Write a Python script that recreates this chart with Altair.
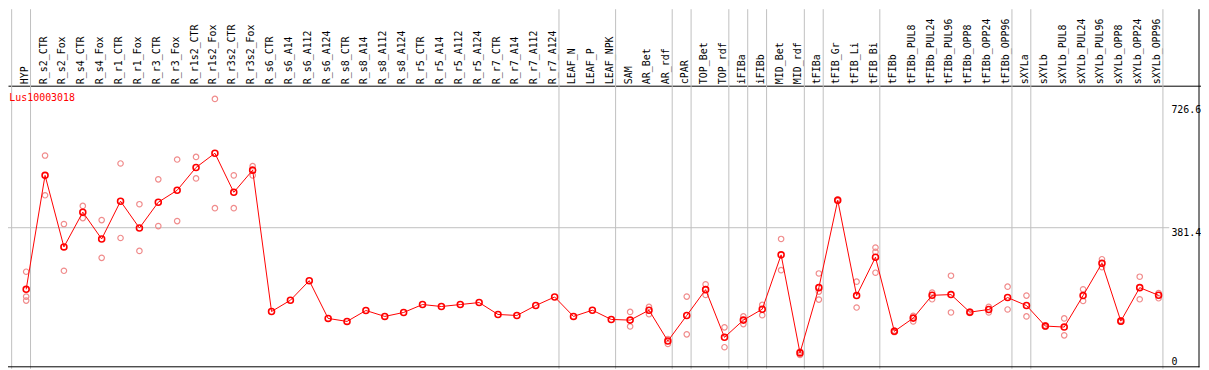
import altair as alt
import pandas as pd

gene = "Lus10003018"

names = ["HYP", "R_s2_CTR", "R_s2_Fox", "R_s4_CTR", "R_s4_Fox", "R_r1_CTR", "R_r1_Fox",
         "R_r3_CTR", "R_r3_Fox", "R_r1s2_CTR", "R_r1s2_Fox", "R_r3s2_CTR", "R_r3s2_Fox",
         "R_s6_CTR", "R_s6_A14", "R_s6_A112", "R_s6_A124", "R_s8_CTR", "R_s8_A14", "R_s8_A112",
         "R_s8_A124", "R_r5_CTR", "R_r5_A14", "R_r5_A112", "R_r5_A124", "R_r7_CTR", "R_r7_A14",
         "R_r7_A112", "R_r7_A124", "LEAF_N", "LEAF_P", "LEAF_NPK", "SAM", "AR_Bet", "AR_rdf",
         "cPAR", "TOP_Bet", "TOP_rdf", "iFIBa", "iFIBb", "MID_Bet", "MID_rdf", "tFIBa",
         "tFIB_Gr", "tFIB_Li", "tFIB_Bi", "tFIBb", "tFIBb_PUL8", "tFIBb_PUL24", "tFIBb_PUL96",
         "tFIBb_OPP8", "tFIBb_OPP24", "tFIBb_OPP96", "sXYLa", "sXYLb", "sXYLb_PUL8",
         "sXYLb_PUL24", "sXYLb_PUL96", "sXYLb_OPP8", "sXYLb_OPP24", "sXYLb_OPP96"]

means = [209.4, 527.5, 327.8, 424.8, 350.0, 455.4, 380.5, 452.6, 485.9, 549.6, 589.3,
         480.3, 542.1, 147.5, 178.9, 233.5, 128.1, 119.8, 150.3, 133.7, 144.8, 166.9,
         161.4, 166.9, 172.5, 139.2, 136.4, 164.2, 188.0, 133.7, 151.1, 125.3, 123.4,
         151.1, 65.2, 136.4, 208.5, 75.4, 123.4, 153.9, 305.6, 31.9, 214.1, 458.1,
         191.9, 298.9, 92.1, 129.0, 192.7, 194.7, 145.6, 153.1, 186.4, 164.2, 106.8,
         104.0, 191.9, 282.3, 120.6, 214.1, 192.7]

rep_idx = [0, 0, 0, 1, 1, 2, 2, 3, 3, 4, 4, 5, 5, 6, 6, 7, 7, 8, 8, 9, 9, 10, 10,
           11, 11, 12, 12, 32, 32, 33, 33, 34, 34, 35, 35, 36, 36, 37, 37, 38, 38,
           39, 39, 40, 40, 41, 41, 42, 42, 42, 43, 43, 44, 44, 45, 45, 45, 46, 46,
           47, 47, 48, 48, 49, 49, 50, 50, 51, 51, 52, 52, 53, 53, 54, 54, 55, 55,
           56, 56, 57, 57, 58, 58, 59, 59, 60, 60]
rep_val = [258.5, 189.1, 178.0, 582.9, 472.0, 391.6, 261.2, 442.3, 408.2, 402.7, 297.3,
           560.7, 352.7, 447.0, 316.7, 516.4, 386.0, 571.8, 399.9, 579.0, 519.1, 741.0,
           435.9, 527.5, 435.9, 553.2, 527.5, 146.4, 105.9, 160.3, 140.0, 70.7, 56.8,
           189.1, 83.7, 223.2, 193.6, 103.2, 47.7, 133.7, 112.3, 165.8, 137.3, 350.0,
           262.9, 35.5, 26.3, 253.7, 203.0, 180.8, 460.9, 456.2, 230.7, 158.6, 325.8,
           313.9, 255.7, 94.3, 90.1, 135.3, 119.8, 200.2, 181.6, 247.4, 144.8, 147.5,
           143.6, 160.3, 144.8, 216.9, 153.1, 191.9, 133.7, 108.7, 104.8, 128.1, 81.0,
           209.4, 176.9, 293.4, 271.2, 122.6, 118.7, 244.6, 181.6, 199.1, 184.4]

group_ends = [-1, 0, 28, 31, 34, 35, 37, 38, 39, 41, 42, 45, 52, 53, 60]
axis_ticks = [0, 381.4, 726.6]
grid_ticks = [381.4]

# ---- layout / style ----
W, H = 1201, 285
PAD_TOP = 77
FONT = "DejaVu Sans Mono"
RED = "#ff0000"
PINK = "#f08c8c"
GREY = "#c0c0c0"
SEP_SHIFT = 0.23

x_scale = alt.Scale(domain=[-18.3 / 19, (W - 18.3) / 19], nice=False, zero=False)
y_scale = alt.Scale(domain=[(280.5 - H) / 0.3606, 280.5 / 0.3606], nice=False, zero=False)

label_expr = "[" + ",".join("'%s'" % n for n in names) + "][datum.value]"
top_axis = alt.Axis(orient="top", values=list(range(len(names))), labelExpr=label_expr,
                    labelAngle=270, labelAlign="left", labelBaseline="middle",
                    labelFont=FONT, labelFontSize=10, labelColor="#000000",
                    labelPadding=2, labelOffset=-2, labelOverlap=False, labelFlush=False,
                    ticks=False, tickSize=0, grid=False, domain=True,
                    domainColor="#000000", domainWidth=1, title=None)
right_axis = alt.Axis(orient="right", values=axis_ticks,
                      labelExpr="datum.value == 0 ? '0' : format(datum.value, '.1f')",
                      labelAlign="left",
                      labelBaseline={"condition": {"test": "datum.value == 0", "value": "alphabetic"},
                                     "value": "top"},
                      labelFont=FONT, labelFontSize=10, labelColor="#000000",
                      labelPadding=0, ticks=False, tickSize=0, grid=False, domain=False,
                      offset=1170.7 - W, title=None, labelOverlap=False, labelFlush=False)

mean_df = pd.DataFrame({"i": list(range(len(names))), "name": names, "v": means})
rep_df = pd.DataFrame({"i": rep_idx, "v": rep_val})
sep_df = pd.DataFrame({"end": group_ends})
grid_df = pd.DataFrame({"v": grid_ticks})
gene_df = pd.DataFrame({"t": [gene]})
one = pd.DataFrame({"a": [0]})

seps = alt.Chart(sep_df).transform_calculate(sx="datum.end + %f" % SEP_SHIFT).mark_rule(
    color=GREY, strokeWidth=1).encode(
    x=alt.X("sx:Q", scale=x_scale, axis=top_axis),
    y=alt.value(-PAD_TOP), y2=alt.value(H))

grid = alt.Chart(grid_df).mark_rule(color=GREY, strokeWidth=1).encode(
    y=alt.Y("v:Q", scale=y_scale, axis=right_axis),
    x=alt.value(0), x2=alt.value(1169))

reps = alt.Chart(rep_df).mark_point(shape="circle", filled=False, color=PINK,
                                    size=30, strokeWidth=1.2, opacity=1).encode(
    x=alt.X("i:Q", scale=x_scale, axis=top_axis),
    y=alt.Y("v:Q", scale=y_scale, axis=right_axis))

line = alt.Chart(mean_df).mark_line(color=RED, strokeWidth=1).encode(
    x=alt.X("i:Q", scale=x_scale, axis=top_axis),
    y=alt.Y("v:Q", scale=y_scale, axis=right_axis))

pts = alt.Chart(mean_df).mark_point(shape="circle", filled=False, color=RED,
                                    size=36, strokeWidth=1.6, opacity=1).encode(
    x=alt.X("i:Q", scale=x_scale, axis=top_axis),
    y=alt.Y("v:Q", scale=y_scale, axis=right_axis),
    tooltip=["name:N", "v:Q"])

title = alt.Chart(gene_df).mark_text(align="left", baseline="middle", color=RED,
                                     font=FONT, fontSize=10).encode(
    text="t:N", x=alt.value(1.3), y=alt.value(12.3))

frame_r = alt.Chart(one).mark_rule(color="#000000", strokeWidth=1).encode(
    x=alt.value(1199), y=alt.value(-PAD_TOP), y2=alt.value(283.5))
frame_b = alt.Chart(one).mark_rule(color="#000000", strokeWidth=1).encode(
    x=alt.value(0), x2=alt.value(1199.5), y=alt.value(283))

chart = alt.layer(seps, grid, frame_r, frame_b, reps, line, pts, title).properties(
    width=W, height=H,
    autosize=alt.AutoSizeParams(type="none"),
    padding={"left": 0, "top": PAD_TOP, "right": 0, "bottom": 0},
    background="#ffffff",
).configure_view(stroke=None)

chart.save("out.html", embed_options={"renderer": "svg", "actions": False})
